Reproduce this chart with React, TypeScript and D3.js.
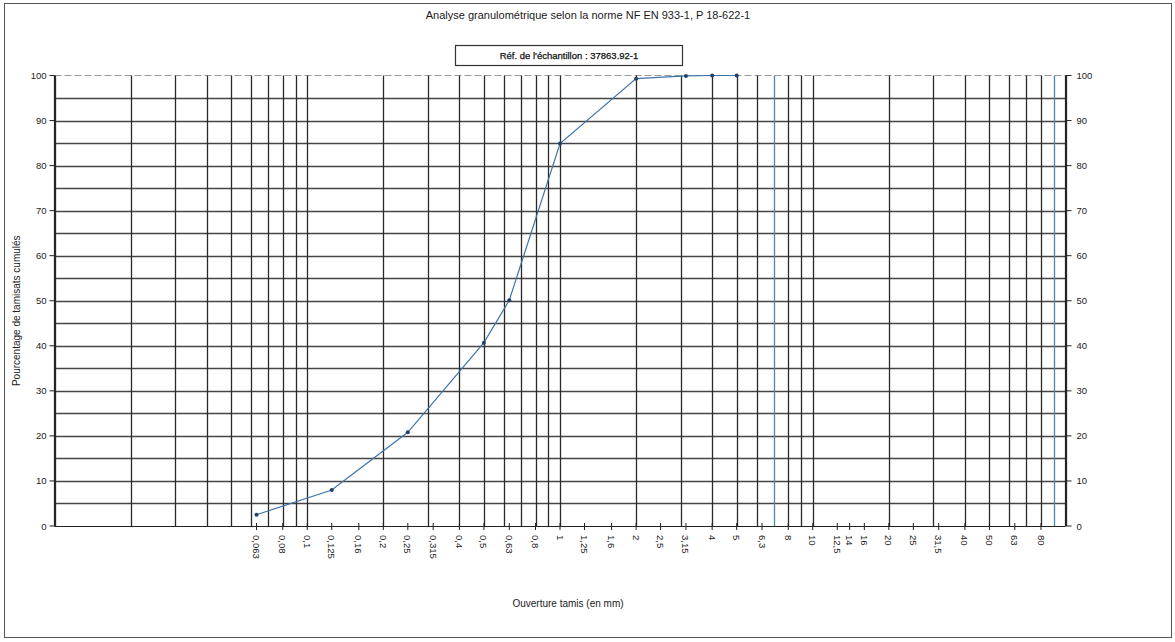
import React from "react";
import * as d3 from "d3";

const sieveSizes = [0.063, 0.125, 0.25, 0.5, 0.63, 1, 2, 3.15, 4, 5];
const passingPct = [2.5, 8.0, 20.8, 40.7, 50.1, 84.9, 99.3, 99.9, 100, 100];

const xTickValues = [0.063, 0.08, 0.1, 0.125, 0.16, 0.2, 0.25, 0.315, 0.4, 0.5, 0.63, 0.8, 1, 1.25, 1.6, 2, 2.5, 3.15, 4, 5, 6.3, 8, 10, 12.5, 14, 16, 20, 25, 31.5, 40, 50, 63, 80];
const xTickLabels = ["0,063", "0,08", "0,1", "0,125", "0,16", "0,2", "0,25", "0,315", "0,4", "0,5", "0,63", "0,8", "1", "1,25", "1,6", "2", "2,5", "3,15", "4", "5", "6,3", "8", "10", "12,5", "14", "16", "20", "25", "31,5", "40", "50", "63", "80"];
const yTickValues = [0, 10, 20, 30, 40, 50, 60, 70, 80, 90, 100];
const yGridValues = [5, 10, 15, 20, 25, 30, 35, 40, 45, 50, 55, 60, 65, 70, 75, 80, 85, 90, 95];
const gridDecades = [0.01, 0.1, 1, 10];
const gridMultipliers = [1, 2, 3, 4, 5, 6, 7, 8, 9];
const tintedGrid = [7, 90];

const title = "Analyse granulométrique  selon la norme NF EN 933-1, P 18-622-1";
const legendText = "Réf. de l'échantillon :  37863.92-1";
const yTitle = "Pourcentage de tamisats cumulés";
const xTitle = "Ouverture tamis (en mm)";

const FONT = "Arial, 'Liberation Sans', sans-serif";

export default function App() {
  const W = 1175;
  const H = 642;
  const x = d3.scaleLog().domain([0.01, 100]).range([54.5, 1065.5]);
  const y = d3.scaleLinear().domain([0, 100]).range([526, 75.5]);

  const vGrid: number[] = [];
  gridDecades.forEach((d) => gridMultipliers.forEach((m) => vGrid.push(+(d * m).toPrecision(3))));
  vGrid.push(100);

  const line = d3
    .line<number>()
    .x((_, i) => x(sieveSizes[i]))
    .y((v) => y(v));

  const x0 = x.range()[0];
  const x1 = x.range()[1];
  const yb = y(0);
  const yt = y(100);

  return (
    <svg width={W} height={H} style={{ position: "absolute", left: 0, top: 0, display: "block", background: "#fff" }} fontFamily={FONT}>
      <rect x={4.5} y={3.5} width={1167} height={634} fill="none" stroke="#555" strokeWidth={1} />
      <text x={588} y={19} textAnchor="middle" fontSize={11} fill="#1a1a1a">{title}</text>
      <rect x={455.5} y={45.5} width={227} height={20} fill="#fff" stroke="#333" strokeWidth={1.2} />
      <text x={569} y={59} textAnchor="middle" fontSize={9.5} fill="#111" stroke="#111" strokeWidth={0.25}>{legendText}</text>

      {/* horizontal grid */}
      {yGridValues.map((v) => (
        <line key={"h" + v} x1={x0} x2={x1} y1={Math.round(y(v)) + 0.5} y2={Math.round(y(v)) + 0.5} stroke="#454545" strokeWidth={1.3} />
      ))}
      <line x1={x0} x2={x1} y1={yt} y2={yt} stroke="#9a9a9a" strokeWidth={1} strokeDasharray="7,3" />

      {/* vertical grid */}
      {vGrid.map((v) => (
        <line
          key={"v" + v}
          x1={Math.round(x(v)) + 0.5}
          x2={Math.round(x(v)) + 0.5}
          y1={yt}
          y2={yb}
          stroke={tintedGrid.includes(v) ? "#4a8aa6" : "#2a2a2a"}
          strokeWidth={1.3}
        />
      ))}

      {/* axes */}
      <line x1={x0} x2={x1} y1={Math.round(yb) + 0.5} y2={Math.round(yb) + 0.5} stroke="#222" strokeWidth={1.2} />
      <line x1={x0} x2={x0} y1={yt} y2={yb} stroke="#222" strokeWidth={1.2} />
      <line x1={x1} x2={x1} y1={yt} y2={yb} stroke="#222" strokeWidth={1.2} />

      {/* y ticks left & right */}
      {yTickValues.map((v) => (
        <g key={"yt" + v}>
          <line x1={x0 - 5} x2={x0} y1={y(v)} y2={y(v)} stroke="#222" />
          <text x={x0 - 8} y={y(v) + 3.5} textAnchor="end" fontSize={9.5} fill="#222">{v}</text>
          <line x1={x1} x2={x1 + 6} y1={y(v)} y2={y(v)} stroke="#222" />
          <text x={x1 + 11} y={y(v) + 3.5} textAnchor="start" fontSize={9.5} fill="#222">{v}</text>
        </g>
      ))}

      {/* x ticks */}
      {xTickValues.map((v, i) => (
        <g key={"xt" + v}>
          <line x1={x(v)} x2={x(v)} y1={yb - 3} y2={yb + 4} stroke="#222" />
          <text
            transform={`translate(${x(v) - 3.5},${yb + 9}) rotate(90)`}
            textAnchor="start"
            fontSize={9.5}
            fill="#222"
          >
            {xTickLabels[i]}
          </text>
        </g>
      ))}

      {/* axis titles */}
      <text transform={`translate(20,${(yt + yb) / 2 + 10}) rotate(-90)`} textAnchor="middle" fontSize={10} fill="#222">{yTitle}</text>
      <text x={568} y={607} textAnchor="middle" fontSize={10} fill="#222">{xTitle}</text>

      {/* data */}
      <path d={line(passingPct) || ""} fill="none" stroke="#3d74a8" strokeWidth={1.2} />
      {passingPct.map((v, i) => (
        <circle key={"p" + i} cx={x(sieveSizes[i])} cy={y(v)} r={2} fill="#1f3f6b" />
      ))}
    </svg>
  );
}
